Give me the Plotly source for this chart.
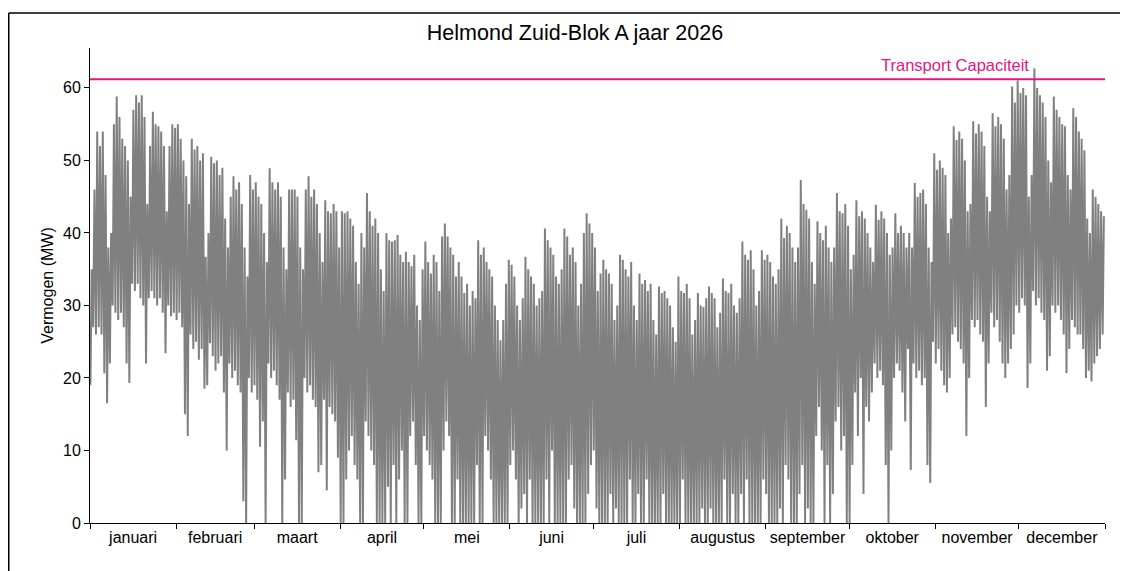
import plotly.graph_objects as go
import numpy as np

TITLE = "Helmond Zuid-Blok A jaar 2026"
Y_TITLE = "Vermogen (MW)"
CAP_LABEL = "Transport Capaciteit"
CAPACITY_MW = 61.2

MONTHS = ["januari", "februari", "maart", "april", "mei", "juni", "juli",
          "augustus", "september", "oktober", "november", "december"]
MONTH_DAYS = [31, 28, 31, 30, 31, 30, 31, 31, 30, 31, 30, 31]

# daily maximum load (MW), day 0 = 1 januari
DAY_MAX = [
    35, 46, 54, 52, 54, 48, 38, 40, 55, 58.8, 56, 53, 52, 50, 45, 57, 59, 58, 59, 56,
    44, 52, 56.7, 55, 54.7, 54, 52, 43, 52, 55, 54.5, 55, 53, 50, 47.8,
    44, 53, 51.5, 52, 50, 51, 36.7, 40, 50.5, 49.6, 50, 48, 49, 42, 38, 45, 47.8, 46, 47, 44,
    38, 34, 48, 46, 47, 45, 44, 40, 36, 48.9, 47, 46, 47, 45, 38, 35, 46, 46,
    46, 45, 38, 35, 46, 47.8, 45, 46, 44, 40, 36, 44.5, 43, 42.7, 44, 43, 38, 43, 42.7, 43,
    42, 41, 36, 33, 40, 38, 45.5, 43, 41, 42, 40, 35, 32, 40, 39, 38.8, 39,
    39.7, 37, 36, 37.4, 36, 35.4, 37, 30, 28, 35, 38.8, 36, 34.4, 37, 36, 32, 39.5, 41.3, 39.5,
    38, 37, 34, 36, 34, 31.7, 33, 30, 32, 31, 39, 37, 38, 36, 35, 34, 30, 28,
    25.2, 28, 33, 36.3, 35.6, 34, 30, 28, 31, 36.7, 35, 34, 33, 30, 31, 32, 40.6, 39, 38,
    37, 34, 33, 35, 40.6, 39.5, 37, 38, 36, 30, 33, 40, 42.7, 41.3, 40, 38, 32, 34.4,
    36.3, 35, 34.4, 33, 28, 30, 37, 36.3, 35, 34, 36, 30, 28, 34.4, 33, 33.5, 32, 33, 28,
    26, 32.6, 31.7, 32, 31, 30, 27, 25, 34, 32, 31.7, 33, 31, 26, 28, 31.7, 30, 29.8, 31,
    32.6, 31.7, 31, 27, 29, 33.7, 32, 31.7, 33, 30, 29, 31, 38.8, 37, 36.3, 37.6, 35, 30, 32,
    37.6, 36.3, 37, 36, 34, 33, 35, 42, 39.3, 41, 40, 38, 36, 38, 47.3, 44, 43.2, 42,
    36, 33, 41.6, 40, 39, 41, 38, 36, 38, 45.5, 43, 42.7, 44, 41, 35, 37, 44.5, 42.3,
    43, 42, 40, 38, 36, 43.9, 41.8, 43, 42, 40, 37, 38, 42.7, 40, 41, 40, 38, 40,
    38, 46.9, 45, 45.5, 46, 44, 38, 36, 51, 48.7, 50, 49, 48, 40, 42, 54.7, 52.8, 54, 53,
    50, 43, 44, 55.4, 53.7, 55, 54, 52, 45, 43, 56.5, 54.7, 56, 55, 53, 46, 48, 60.2, 58,
    61, 59.3, 60, 59, 45, 48, 62.7, 60, 59, 58, 56, 50, 47, 58.8, 57, 56, 55, 54.7,
    48, 46, 57.2, 56, 54, 53, 51.4, 42, 40, 46, 45, 44, 43, 42.3,
]

# daily minimum load (MW)
DAY_MIN = [
    19, 27, 26, 27, 26, 20.6, 16.5, 22, 30, 29, 28, 29, 27, 22, 19.3, 33, 32, 33, 31, 30,
    22, 31, 32, 31, 30, 31, 29, 23.4, 30, 28.5, 29, 28, 29, 27, 15,
    12, 26, 24, 25, 22.5, 24, 18.5, 19, 24.8, 23, 21, 22, 23, 18, 10, 22, 20, 21, 19, 18,
    3, 0, 20, 18, 19, 17, 10.5, 14, 0, 22, 20, 21, 19, 17, 0, 6, 18, 16,
    17, 11.4, 0, 0, 20, 18, 19, 17, 16, 7, 8, 17, 4.5, 16, 15, 14, 9, 0, 0, 6,
    10, 12, 8, 6, 0, 0, 14, 12, 10, 8, 0, 0, 0, 0, 5, 0, 8,
    0, 6, 10, 0, 0, 12, 14, 8, 0, 0, 12, 10, 8, 6, 0, 0, 0, 10, 14,
    12, 0, 0, 6, 0, 0, 0, 0, 0, 0, 8, 0, 0, 12, 10, 6, 0, 0,
    0, 0, 0, 0, 8, 10, 6, 0, 2, 4, 0, 6, 0, 0, 0, 0, 0, 6, 0,
    10, 0, 0, 0, 0, 0, 6, 8, 2, 0, 0, 0, 0, 4, 8, 10, 2, 0,
    0, 0, 0, 4, 0, 2, 0, 0, 0, 0, 6, 0, 0, 4, 0, 0, 6, 0, 0,
    0, 0, 0, 4, 0, 0, 0, 0, 0, 0, 6, 0, 0, 0, 0, 0, 0, 2, 0,
    0, 2, 0, 0, 0, 0, 6, 0, 0, 4, 0, 0, 4, 0, 6, 0, 0, 0, 0,
    0, 6, 4, 0, 0, 0, 0, 2, 0, 8, 6, 0, 0, 0, 4, 8, 0, 2,
    0, 0, 12, 16, 10, 0, 8, 0, 4, 14, 16, 10, 12, 0, 0, 8, 18, 12,
    20, 4, 16, 14, 18, 22, 20, 21, 19, 8, 0, 10, 20, 22, 21, 18, 14, 24,
    7.3, 22, 20, 21, 19, 20, 8, 5.5, 25, 22, 24, 21, 19, 18, 20, 26, 27, 25, 24,
    22, 12, 20, 28, 27, 28, 26, 25, 16, 22, 29, 27, 28, 25, 22, 20, 22, 24, 26,
    30, 29, 31, 30, 18.6, 22, 32, 30, 31, 29, 28, 21, 23, 30, 29, 30, 28, 26,
    20.7, 24, 28, 27, 26, 26, 24, 20, 21, 19.5, 22, 23, 24, 26,
]

# ---- build the load trace: each day drawn from its minimum to its maximum ----
xs, ys = [], []
for d, (lo, hi) in enumerate(zip(DAY_MIN, DAY_MAX)):
    xs += [d + 0.15, d + 0.6]
    ys += [lo, hi]

n_days = sum(MONTH_DAYS)
month_start = np.concatenate([[0], np.cumsum(MONTH_DAYS)])
month_mid = (month_start[:-1] + month_start[1:]) / 2.0

# page has an 8px body margin, so the figure is sized to fit the window
W, H = 1120, 563
L, R, T, B = 82, 23, 40, 48
pw, ph = W - L - R, H - T - B

FONT = "Arial, Liberation Sans, sans-serif"
PINK = "#E5147F"
GREY = "#808080"

fig = go.Figure()
fig.add_trace(go.Scatter(x=xs, y=ys, mode="lines",
                         line=dict(color=GREY, width=2),
                         hoverinfo="skip", showlegend=False))
fig.add_hline(y=CAPACITY_MW, line=dict(color=PINK, width=2))
fig.add_annotation(x=311, y=CAPACITY_MW, xref="x", yref="y", text=CAP_LABEL,
                   showarrow=False, yanchor="bottom", yshift=3,
                   font=dict(color=PINK, size=16.5, family=FONT))


def px2paper_x(px):
    return (px - L) / pw


def px2paper_y(py):
    return (H - B - py) / ph


# frame lines (top and left edges of the figure)
fig.add_shape(type="line", xref="paper", yref="paper",
              x0=px2paper_x(0.75), x1=px2paper_x(W + 5), y0=px2paper_y(5), y1=px2paper_y(5),
              line=dict(color="black", width=1.5))
fig.add_shape(type="line", xref="paper", yref="paper",
              x0=px2paper_x(0.75), x1=px2paper_x(0.75), y0=px2paper_y(5), y1=px2paper_y(H + 5),
              line=dict(color="black", width=1.5))

fig.update_layout(
    width=W, height=H,
    margin=dict(l=L, r=R, t=T, b=B, autoexpand=False),
    paper_bgcolor="white", plot_bgcolor="white",
    font=dict(family=FONT, size=16, color="black"),
    title=dict(text=TITLE, x=567 / W, xanchor="center", xref="container",
               y=1 - 24 / H, yanchor="middle", yref="container",
               font=dict(size=21.5, family=FONT, color="black")),
    showlegend=False,
)
fig.update_xaxes(
    range=[0, n_days], showgrid=False, zeroline=False,
    showline=True, linecolor="black", linewidth=1,
    tickmode="array", tickvals=month_mid.tolist(), ticktext=MONTHS,
    ticks="", ticklen=0,
    minor=dict(tickmode="array", tickvals=month_start.tolist(), ticks="outside",
               ticklen=5, tickcolor="black", tickwidth=1, showgrid=False),
    tickfont=dict(size=16, family=FONT, color="black"),
)
fig.update_yaxes(
    range=[0, 65.5], showgrid=False, zeroline=False,
    showline=True, linecolor="black", linewidth=1,
    tickmode="array", tickvals=[0, 10, 20, 30, 40, 50, 60],
    ticks="outside", ticklen=5, tickcolor="black",
    tickfont=dict(size=16, family=FONT, color="black"),
    title=dict(text=Y_TITLE, standoff=5, font=dict(size=16, family=FONT, color="black")),
)

fig.write_html("out.html")
